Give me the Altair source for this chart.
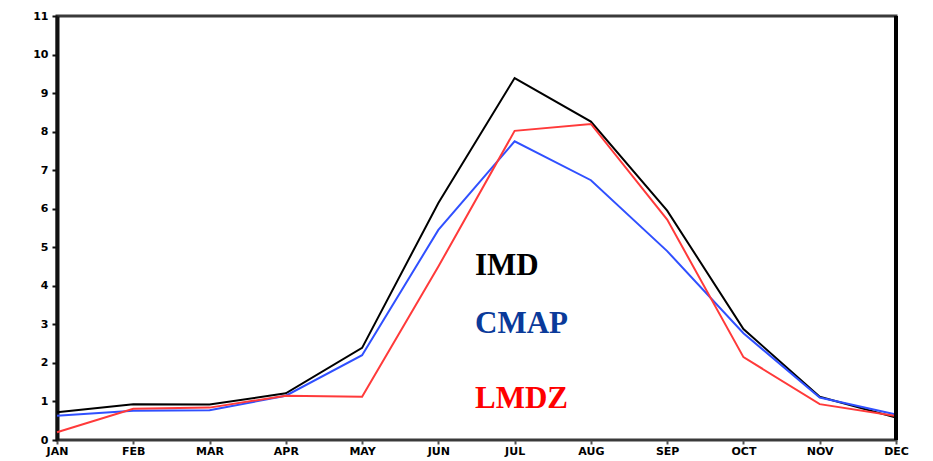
import altair as alt
import pandas as pd

months = ["JAN", "FEB", "MAR", "APR", "MAY", "JUN", "JUL", "AUG", "SEP", "OCT", "NOV", "DEC"]
imd = [0.72, 0.93, 0.92, 1.21, 2.39, 6.15, 9.39, 8.26, 5.95, 2.88, 1.12, 0.58]
cmap = [0.63, 0.76, 0.77, 1.15, 2.2, 5.45, 7.75, 6.74, 4.9, 2.77, 1.1, 0.66]
lmdz = [0.2, 0.81, 0.84, 1.15, 1.12, 4.5, 8.02, 8.2, 5.72, 2.15, 0.93, 0.62]
series_names = ["IMD", "CMAP", "LMDZ"]
line_colors = ["#000000", "#3050ff", "#ff3a3a"]
label_colors = ["#000000", "#0a3a9a", "#ff0000"]
y_ticks = list(range(0, 12))

rows = []
for name, vals in zip(series_names, [imd, cmap, lmdz]):
    for m, v in zip(months, vals):
        rows.append({"month": m, "value": v, "series": name})
df = pd.DataFrame(rows)

W, H = 839, 424

lines = alt.Chart(df).mark_line(strokeWidth=2).encode(
    x=alt.X("month:N", sort=months,
            scale=alt.Scale(type="point", domain=months, padding=0),
            axis=alt.Axis(title=None, labelAngle=0, labelFont="DejaVu Sans",
                          labelFontWeight="bold", labelFontSize=11, labelColor="#000",
                          tickSize=4, tickColor="#555", tickWidth=2,
                          domain=False, labelPadding=1, grid=False)),
    y=alt.Y("value:Q", scale=alt.Scale(domain=[0, 11], nice=False, zero=True),
            axis=alt.Axis(title=None, values=y_ticks, labelFont="DejaVu Sans",
                          labelFontWeight="bold", labelFontSize=11, labelColor="#000",
                          tickSize=5, tickColor="#111", tickWidth=2,
                          domain=True, domainColor="#111", domainWidth=4,
                          labelPadding=4, grid=False)),
    color=alt.Color("series:N", scale=alt.Scale(domain=series_names, range=line_colors),
                    legend=None),
    detail="series:N",
)

right_border = alt.Chart(pd.DataFrame({"a": [0]})).mark_rule(color="#000", strokeWidth=4).encode(
    x=alt.value(W), y=alt.value(0), y2=alt.value(H)
)

label_y = [259, 317, 392]
texts = []
for name, col, yy in zip(series_names, label_colors, label_y):
    texts.append(
        alt.Chart(pd.DataFrame({"t": [name]})).mark_text(
            font="Liberation Serif", fontWeight="bold", fontSize=31,
            align="left", baseline="alphabetic", color=col
        ).encode(text="t:N", x=alt.value(418), y=alt.value(yy))
    )

chart = alt.layer(lines, right_border, *texts).properties(
    width=W, height=H,
    padding={"left": 57, "top": 16, "right": 37, "bottom": 21},
    autosize=alt.AutoSizeParams(type="none"),
    background="white",
).configure_view(stroke="#3a3a3a", strokeWidth=3)

chart.save("out.html", embed_options={"renderer": "svg", "actions": False})
